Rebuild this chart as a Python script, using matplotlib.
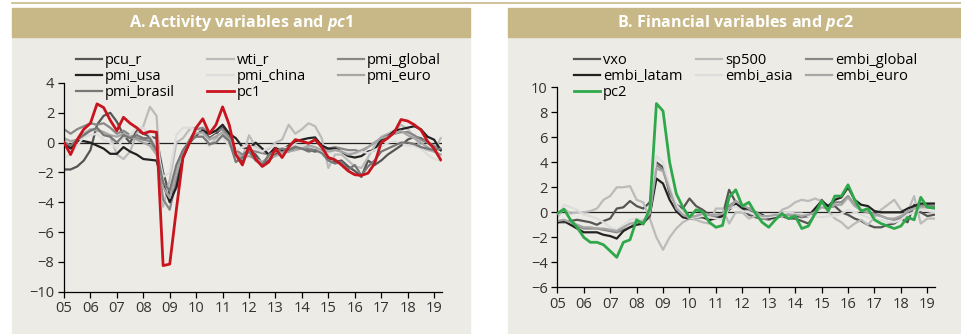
import numpy as np
import matplotlib
matplotlib.use("Agg")
import matplotlib.pyplot as plt
from matplotlib.patches import Rectangle
from matplotlib.lines import Line2D

plt.rcParams['font.family'] = ['Open Sans', 'DejaVu Sans']
plt.rcParams['mathtext.fontset'] = 'custom'
plt.rcParams['mathtext.it'] = 'Open Sans:italic:bold'
plt.rcParams['mathtext.rm'] = 'Open Sans:bold'

# Quarterly observations, 2005Q1 - 2019Q2
quarters = np.arange(58) / 4.0 + 2005
years = list(range(2005, 2020))
year_labels = [f"{y % 100:02d}" for y in years]

# Panel A: activity variables
pcu_r = [-1.8, -1.8, -1.6, -1.2, -0.5, 1.2, 1.8, 2.0, 1.4, 0.5, 0.0, 0.8, 0.6, 0.4, 0.3, -2.0,
         -3.5, -3.0, -1.0, 0.0, 0.5, 0.9, 0.3, 0.6, 1.0, 0.6, -0.8, -1.3, -0.5, -0.8, -1.4, -1.2,
         -0.8, -0.5, -0.6, -0.3, -0.3, -0.5, -0.6, -0.5, -1.0, -1.3, -1.2, -1.6, -1.9, -2.3, -1.2,
         -1.5, -1.2, -0.8, -0.5, -0.2, 0.2, 0.4, 0.3, 0.0, -0.3, -0.5]
wti_r = [0.2, -0.3, 0.1, 0.5, 0.8, 0.9, 0.7, 0.4, -0.8, -1.1, -0.6, 0.6, 1.1, 2.4, 1.8, -4.3,
         -2.5, 0.0, 0.3, 0.9, 1.0, 0.7, -0.2, 0.3, 0.4, 0.2, -0.5, -1.0, 0.5, -0.3, -0.6, -0.4,
         0.0, 0.2, 1.2, 0.6, 0.9, 1.3, 1.1, 0.3, -1.7, -0.8, -0.8, -1.2, -1.6, -1.7, -1.0, -0.2,
         0.4, 0.6, 0.8, 1.2, 0.9, 0.4, -0.3, -0.5, -0.6, 0.3]
pmi_global = [0.9, 0.6, 0.9, 1.1, 1.3, 1.2, 1.3, 1.0, 0.6, 0.8, 0.5, 0.3, 0.2, 0.1, -0.6, -3.8,
              -4.5, -2.5, -1.0, 0.2, 0.9, 1.0, 0.6, 0.8, 0.9, 0.3, -0.5, -0.8, -0.5, -0.6, -0.7,
              -0.8, -0.5, -0.6, -0.4, -0.2, -0.3, -0.4, -0.5, -0.5, -0.4, -0.3, -0.4, -0.5, -0.5,
              -0.6, -0.3, 0.0, 0.3, 0.5, 0.6, 0.7, 0.7, 0.5, 0.2, 0.0, -0.2, -0.5]
pmi_usa = [0.0, -0.4, 0.1, 0.1, 0.0, -0.2, -0.4, -0.75, -0.75, -0.3, -0.6, -0.8, -1.1, -1.15,
           -1.2, -2.8, -4.0, -3.0, -1.0, 0.0, 0.5, 0.8, 0.6, 0.8, 1.2, 0.6, 0.3, -0.3, -0.4, 0.0,
           -0.4, -0.8, -0.3, -0.5, -0.2, 0.1, 0.2, 0.3, 0.35, -0.2, -0.4, -0.4, -0.6, -0.9, -1.0,
           -0.9, -0.6, -0.5, 0.2, 0.4, 0.8, 0.9, 1.0, 1.1, 0.9, 0.4, 0.2, -0.5]
pmi_china = [-1.0, -0.8, -0.2, 0.4, 0.5, 0.6, 0.2, 0.0, -0.4, 0.3, 0.5, 1.0, 1.0, 0.5, -0.2,
             -2.3, -2.0, 0.5, 1.0, 1.0, 0.8, 0.4, 0.2, 0.5, 0.3, -0.2, -0.5, -0.3, -0.2, -0.4,
             -0.6, -0.3, -0.2, -0.4, -0.3, -0.1, -0.3, -0.2, -0.3, -0.6, -0.8, -0.5, -0.6, -0.7,
             -0.8, -0.6, -0.7, -0.5, -0.3, 0.0, 0.1, 0.0, -0.2, -0.2, -0.4, -0.8, -1.1, -1.2]
pmi_euro = [0.3, 0.1, 0.2, 0.6, 0.9, 0.8, 0.7, 0.5, 0.4, 0.6, 0.4, 0.2, 0.0, -0.2, -0.8, -3.0,
            -3.7, -2.0, -0.6, 0.2, 0.6, 0.7, 0.2, 0.4, 0.7, 0.2, -0.8, -1.0, -0.9, -1.1, -1.3,
            -1.0, -0.9, -0.7, -0.6, -0.5, -0.4, -0.2, -0.3, -0.5, -0.6, -0.5, -0.6, -0.8, -0.7,
            -0.5, -0.3, 0.0, 0.3, 0.4, 0.6, 0.8, 0.5, 0.3, 0.0, -0.3, -0.6, -0.8]
pmi_brasil = [0.0, -0.2, 0.2, 0.5, 0.8, 1.0, 0.5, 0.4, 0.0, 0.5, 0.3, 0.5, 0.3, 0.3, -0.5, -2.7,
              -3.2, -1.5, -0.5, 0.1, 0.4, 0.4, -0.1, 0.0, 0.5, 0.1, -1.3, -1.0, -0.6, -1.2, -1.5,
              -0.8, -0.6, -0.4, -0.5, -0.3, -0.4, -0.6, -0.5, -0.7, -1.2, -1.4, -1.3, -1.8, -1.5,
              -2.2, -1.6, -1.2, -0.6, -0.4, -0.2, 0.0, 0.0, -0.1, -0.3, -0.4, -0.5, -0.4]
pc1 = [0.0, -0.8, 0.2, 0.9, 1.3, 2.6, 2.35, 1.5, 0.8, 1.7, 1.3, 1.0, 0.6, 0.75, 0.7, -8.25,
       -8.15, -4.5, -1.0, 0.0, 1.0, 1.6, 0.6, 1.2, 2.4, 1.2, -0.8, -1.5, -0.2, -1.1, -1.6, -1.3,
       -0.4, -1.0, -0.3, 0.2, 0.1, -0.05, 0.2, -0.3, -1.0, -1.15, -1.5, -1.9, -2.15, -2.2, -2.05,
       -1.4, 0.0, 0.3, 0.7, 1.55, 1.45, 1.2, 0.85, 0.1, -0.4, -1.15]

# Panel B: financial variables
vxo = [-0.8, -0.8, -0.7, -0.6, -0.7, -0.8, -1.0, -0.7, -0.5, 0.3, 0.4, 0.9, 0.5, 0.3, 0.8, 4.0,
       3.6, 1.5, 0.6, 0.3, 1.1, 0.5, 0.2, -0.2, -0.4, -0.3, 1.8, 0.8, 0.3, -0.2, -0.4, -0.5, -0.3,
       -0.4, -0.3, -0.5, -0.5, -0.7, -0.9, -0.2, 1.0, 0.4, 0.5, 0.0, -0.2, -0.5, -0.7, -1.0, -1.2,
       -1.2, -1.0, -0.9, -0.5, -0.8, 0.6, 0.0, -0.3, -0.2]
sp500 = [-0.4, 0.3, -0.1, 0.0, 0.0, 0.1, 0.3, 1.0, 1.3, 2.0, 2.0, 2.1, 1.0, 0.8, -0.5, -2.0,
         -3.0, -2.0, -1.3, -0.8, -0.5, -0.6, -0.8, -0.9, 0.3, 0.3, -0.9, 0.0, 0.0, -0.5, -0.3,
         -0.3, -0.6, -0.5, 0.2, 0.4, 0.8, 1.0, 0.9, 1.1, 0.9, 0.1, -0.5, -0.8, -1.3, -0.9, -0.6,
         -1.0, -0.4, 0.2, 0.6, 1.0, 0.2, 0.0, 1.3, -0.9, -0.5, -0.5]
embi_global = [-0.8, -0.7, -0.8, -1.1, -1.3, -1.3, -1.3, -1.4, -1.5, -1.6, -1.4, -1.2, -0.8,
               -0.8, -0.4, 3.8, 3.4, 1.8, 0.5, 0.0, -0.4, -0.3, -0.2, -0.3, -0.4, -0.3, 0.5,
               0.9, 0.3, 0.2, -0.1, -0.5, -0.6, -0.3, -0.1, -0.2, -0.3, -0.4, -0.3, -0.1, 0.8,
               0.5, 0.8, 0.8, 1.3, 0.6, 0.1, 0.0, -0.1, -0.3, -0.5, -0.6, -0.4, 0.0, 0.4, 0.5,
               0.6, 0.5]
embi_latam = [-0.8, -0.7, -1.0, -1.3, -1.6, -1.6, -1.6, -1.8, -1.9, -2.1, -1.5, -1.2, -1.0,
              -0.9, -0.2, 2.7, 2.3, 1.0, 0.1, -0.4, -0.5, -0.4, -0.4, -0.6, -0.5, -0.3, 0.2,
              0.7, 0.3, 0.3, 0.0, -0.2, -0.5, -0.4, -0.2, -0.2, -0.3, -0.3, -0.3, 0.3, 0.9, 0.5,
              1.0, 1.2, 2.0, 1.0, 0.6, 0.5, 0.1, 0.0, 0.0, 0.0, 0.0, 0.3, 0.5, 0.7, 0.7, 0.7]
embi_asia = [-0.3, 0.6, 0.4, 0.2, -0.2, -0.3, -0.5, -0.8, -1.2, -1.4, -1.0, -0.6, -0.5, -0.6,
             0.0, 4.5, 4.0, 2.0, 0.6, 0.0, -0.5, -0.4, -0.3, -0.4, -0.5, -0.6, 0.3, 0.5, 0.1,
             0.0, -0.2, -0.4, -0.4, -0.3, -0.1, 0.0, -0.1, -0.1, -0.3, -0.3, -0.4, -0.3, -0.3,
             -0.1, 0.2, 0.0, -0.2, -0.4, -0.6, -0.6, -0.8, -0.8, -0.6, -0.2, 0.0, 0.2, 0.1, 0.0]
embi_euro = [-0.7, -0.6, -0.8, -1.0, -1.2, -1.2, -1.3, -1.3, -1.4, -1.5, -1.2, -0.9, -0.8, -0.7,
             -0.1, 3.5, 3.3, 1.8, 0.3, -0.2, -0.4, -0.3, -0.1, -0.2, -0.2, -0.1, 0.3, 0.9, 0.6,
             0.3, 0.0, -0.3, -0.3, -0.2, -0.3, -0.2, -0.2, -0.3, -0.2, 0.0, 0.4, 0.3, 0.6, 0.6,
             1.2, 0.5, 0.2, 0.0, -0.2, -0.3, -0.5, -0.5, -0.3, 0.1, 0.3, 0.4, 0.4, 0.3]
pc2 = [-0.1, 0.25, -0.6, -1.2, -2.0, -2.4, -2.4, -2.6, -3.1, -3.6, -2.4, -2.2, -0.6, -0.95, 0.3,
       8.7, 8.1, 4.0, 1.5, 0.4, -0.4, 0.2, 0.05, -0.8, -1.2, -1.05, 1.2, 1.8, 0.5, 0.8, -0.1,
       -0.8, -1.2, -0.6, -0.1, -0.5, -0.3, -1.3, -1.1, -0.1, 0.9, 0.1, 1.3, 1.3, 2.2, 1.0, 0.1,
       0.3, -0.6, -0.9, -1.1, -1.3, -1.1, -0.4, -0.6, 1.2, 0.4, 0.35]

GRAYS = ['#555555', '#bbbbbb', '#888888', '#222222', '#dddddd', '#a6a6a6', '#777777']
TAN = '#c8b887'
PANEL = '#edebe5'
W, H = 962, 334


def px_box(x0, y0, x1, y1):
    """Convert a pixel box (top-left origin) to figure fractions."""
    return [x0 / W, 1 - y1 / H, (x1 - x0) / W, (y1 - y0) / H]


def draw_panel(fig, x0, x1, title):
    fig.patches.append(Rectangle((x0 / W, 0), (x1 - x0) / W, 1 - 37 / H,
                                 transform=fig.transFigure, color=PANEL, zorder=-5))
    fig.patches.append(Rectangle((x0 / W, 1 - 37 / H), (x1 - x0) / W, 29 / H,
                                 transform=fig.transFigure, color=TAN, zorder=-5))
    fig.text((x0 + x1) / 2 / W, 1 - 23 / H, title, ha='center', va='center',
             color='white', fontsize=11.6, fontweight='bold')


def style_axes(ax, ylim, xmax):
    ax.set_facecolor('none')
    ax.set_xlim(2005, xmax)
    ax.set_ylim(*ylim)
    ax.set_yticks(range(ylim[0], ylim[1] + 1, 2))
    ax.set_xticks(years)
    ax.set_xticklabels(year_labels)
    ax.axhline(0, color='#222222', lw=0.9, zorder=1)
    for side in ['top', 'right']:
        ax.spines[side].set_visible(False)
    for side in ['left', 'bottom']:
        ax.spines[side].set_linewidth(0.9)
    ax.tick_params(direction='out', length=4, width=0.9, labelsize=10.5,
                   labelcolor='#333333', pad=3)


def add_legend(fig, handles, order, x0, colspace):
    # legend fills column by column, so reorder to read across rows
    handles = [handles[i] for i in order]
    fig.legend(handles=handles, ncol=3, loc='upper left', bbox_to_anchor=(x0 / W, 1 - 53 / H),
               frameon=False, fontsize=10.5, handlelength=1.8, handletextpad=0.2,
               columnspacing=colspace, labelspacing=0.08, borderaxespad=0, borderpad=0)


def main():
    fig = plt.figure(figsize=(W / 100, H / 100), dpi=100)
    fig.add_artist(Line2D([12 / W, 1], [1 - 3 / H, 1 - 3 / H], color=TAN, lw=1.2))

    draw_panel(fig, 12, 470, r"A. Activity variables and $pc$1")
    draw_panel(fig, 508, 962, r"B. Financial variables and $pc$2")

    # Panel A
    ax1 = fig.add_axes(px_box(64, 83, 442, 291.7))
    style_axes(ax1, (-10, 4), 2019.3)
    names1 = ['pcu_r', 'wti_r', 'pmi_global', 'pmi_usa', 'pmi_china', 'pmi_euro', 'pmi_brasil']
    series1 = [pcu_r, wti_r, pmi_global, pmi_usa, pmi_china, pmi_euro, pmi_brasil]
    h1 = []
    for vals, name, color in zip(series1, names1, GRAYS):
        line, = ax1.plot(quarters, vals, color=color, lw=1.6, label=name, zorder=2)
        h1.append(line)
    line, = ax1.plot(quarters, pc1, color='#c8141e', lw=2.0, label='pc1', zorder=3)
    h1.append(line)
    add_legend(fig, h1, [0, 3, 6, 1, 4, 7, 2, 5], 76, 2.2)

    # Panel B
    ax2 = fig.add_axes(px_box(557.3, 87.3, 935, 287.3))
    style_axes(ax2, (-6, 10), 2019.29)
    names2 = ['vxo', 'sp500', 'embi_global', 'embi_latam', 'embi_asia', 'embi_euro']
    series2 = [vxo, sp500, embi_global, embi_latam, embi_asia, embi_euro]
    h2 = []
    for vals, name, color in zip(series2, names2, GRAYS):
        line, = ax2.plot(quarters, vals, color=color, lw=1.6, label=name, zorder=2)
        h2.append(line)
    line, = ax2.plot(quarters, pc2, color='#2ea84a', lw=2.0, label='pc2', zorder=3)
    h2.append(line)
    add_legend(fig, h2, [0, 3, 6, 1, 4, 2, 5], 574, 0.9)

    fig.savefig('out.png', dpi=100)


if __name__ == "__main__":
    main()
